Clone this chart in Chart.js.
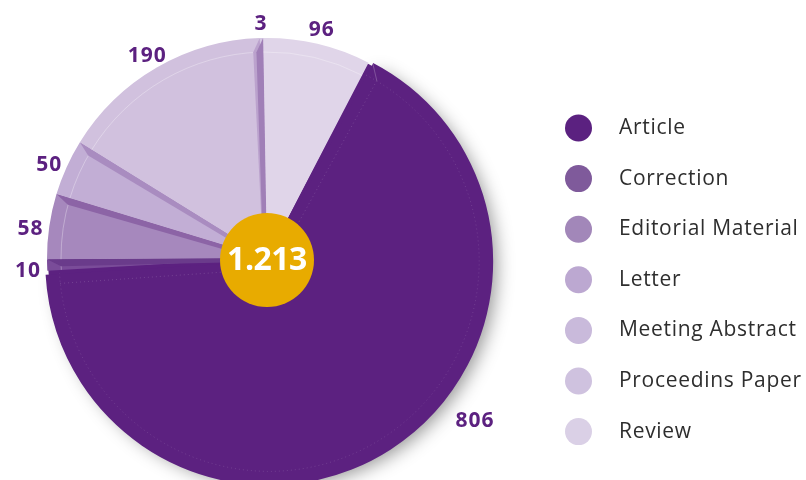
<!DOCTYPE html>
<html><head><meta charset="utf-8">
<script src="https://cdn.jsdelivr.net/npm/chart.js@4.4.1/dist/chart.umd.min.js"></script>
<style>html,body{margin:0;padding:0;background:#fff;}#wrap{width:806px;height:480px;position:relative;}</style>
</head><body><div id="wrap"><canvas id="c" width="806" height="480"></canvas></div>
<script>
const categories = ['Article','Correction','Editorial Material','Letter','Meeting Abstract','Proceedins Paper','Review'];
const counts = [806, 10, 58, 50, 190, 3, 96];
const totalLabel = '1.213';

const sliceColors = ['#5c2180','#7a4c99','#a688bd','#c2aed5','#d1c1de','#d4c6e2','#e0d5e9'];
const legendColors = ['#5b2180','#7f5a9b','#a287b9','#bca8d1','#c9badb','#cfc2df','#dad0e6'];
const bandColors = [null,'#6a3b8b','#8c64a6','#a98cc0','#bba2cd','#a07fb7',null];
const sliceOffsets = [16,0,0,0,0,0,0];

const FONT = '"Open Sans", "DejaVu Sans", sans-serif';
const PURPLE = '#5c2180';

// geometry of an arc as Chart.js v4 paints it (offset/4 shift and radius growth)
function geom(arc){
  const p = arc.getProps(['x','y','startAngle','endAngle','outerRadius','circumference'], true);
  const off = (arc.options.offset || 0) / 4;
  const mid = (p.startAngle + p.endAngle)/2;
  const fix = 1 - Math.sin(Math.min(Math.PI, p.circumference || 0));
  return {cx: p.x + Math.cos(mid)*off, cy: p.y + Math.sin(mid)*off, R: p.outerRadius + off*fix,
          s: p.startAngle, e: p.endAngle, mid, x: p.x, y: p.y, r: p.outerRadius};
}

const shadowPlugin = {
  id:'shadow',
  beforeDatasetsDraw(chart){
    const arc = chart.getDatasetMeta(0).data[0];
    const ctx = chart.ctx;
    const g = geom(arc);
    const far = 4000;
    ctx.save();
    ctx.shadowColor = 'rgba(0,0,0,0.42)';
    ctx.shadowBlur = 18;
    ctx.shadowOffsetX = far + 7;
    ctx.shadowOffsetY = 5;
    ctx.fillStyle = '#000';
    ctx.beginPath();
    ctx.moveTo(g.cx - far, g.cy);
    ctx.arc(g.cx - far, g.cy, g.R - 4, g.s, g.e);
    ctx.closePath();
    ctx.fill();
    ctx.restore();
    // fill the seam left by the exploded slice
    ctx.save();
    ctx.fillStyle = arc.options.backgroundColor;
    ctx.beginPath();
    ctx.moveTo(g.x, g.y);
    ctx.arc(g.x, g.y, g.r - 1, g.s - 0.005, g.e + 0.005);
    ctx.closePath();
    ctx.fill();
    ctx.restore();
  }
};

const bevelPlugin = {
  id:'bevel',
  afterDatasetsDraw(chart){
    const ctx = chart.ctx;
    const meta = chart.getDatasetMeta(0);
    const b = 14, w = 7;
    meta.data.forEach((arc,i)=>{
      const g = geom(arc);
      ctx.save();
      ctx.strokeStyle = i===0 ? 'rgba(255,255,255,0.13)' : 'rgba(255,255,255,0.3)';
      ctx.lineWidth = 1;
      if(i===0) ctx.setLineDash([1,3]);
      ctx.beginPath();
      ctx.arc(g.cx, g.cy, g.R - b, g.s, g.e);
      ctx.stroke();
      ctx.restore();
      if(bandColors[i]){
        const ux = Math.cos(g.e), uy = Math.sin(g.e);
        const nx = Math.sin(g.e), ny = -Math.cos(g.e);
        ctx.save();
        ctx.fillStyle = bandColors[i];
        ctx.beginPath();
        ctx.moveTo(g.cx + g.R*ux, g.cy + g.R*uy);
        ctx.lineTo(g.cx + (g.R-b)*ux + w*nx, g.cy + (g.R-b)*uy + w*ny);
        ctx.lineTo(g.cx + 30*ux + w*0.6*nx, g.cy + 30*uy + w*0.6*ny);
        ctx.lineTo(g.cx, g.cy);
        ctx.closePath();
        ctx.fill();
        ctx.restore();
      }
      if(i===0){
        const ux = Math.cos(g.s), uy = Math.sin(g.s);
        const nx = -Math.sin(g.s), ny = Math.cos(g.s);
        const bx = g.cx + (g.R-b)*ux + 12*nx, by = g.cy + (g.R-b)*uy + 12*ny;
        ctx.save();
        ctx.strokeStyle = 'rgba(255,255,255,0.22)';
        ctx.lineWidth = 1;
        ctx.beginPath();
        ctx.moveTo(g.cx + g.R*ux, g.cy + g.R*uy);
        ctx.lineTo(bx, by);
        ctx.stroke();
        ctx.strokeStyle = 'rgba(255,255,255,0.15)';
        ctx.setLineDash([1,3]);
        ctx.beginPath();
        ctx.moveTo(bx, by);
        ctx.lineTo(g.cx + 40*ux + 8*nx, g.cy + 40*uy + 8*ny);
        ctx.stroke();
        const ex = Math.cos(g.e), ey = Math.sin(g.e);
        const mx = Math.sin(g.e), my = -Math.cos(g.e);
        ctx.beginPath();
        ctx.moveTo(g.cx + (g.R-b)*ex + 10*mx, g.cy + (g.R-b)*ey + 10*my);
        ctx.lineTo(g.cx + 40*ex + 8*mx, g.cy + 40*ey + 8*my);
        ctx.stroke();
        ctx.restore();
      }
    });
  }
};

const centerPlugin = {
  id:'centerDisc',
  afterDatasetsDraw(chart){
    const ctx = chart.ctx;
    const arc = chart.getDatasetMeta(0).data[1];
    const cx = arc.x, cy = arc.y + 2;
    ctx.save();
    ctx.fillStyle = '#e8ab00';
    ctx.beginPath();
    ctx.arc(cx, cy, 47, 0, Math.PI*2);
    ctx.fill();
    ctx.fillStyle = '#ffffff';
    ctx.font = 'bold 32px ' + FONT;
    if('letterSpacing' in ctx) ctx.letterSpacing = '-0.5px';
    ctx.textAlign = 'center';
    ctx.textBaseline = 'middle';
    ctx.fillText(totalLabel, cx, cy + 1);
    ctx.restore();
  }
};

const labelOverrides = {0: {angleDeg: 128, dist: 264}};
const valueLabelPlugin = {
  id:'valueLabels',
  afterDatasetsDraw(chart){
    const ctx = chart.ctx;
    const meta = chart.getDatasetMeta(0);
    ctx.save();
    ctx.fillStyle = PURPLE;
    ctx.font = 'bold 21px ' + FONT;
    if('letterSpacing' in ctx) ctx.letterSpacing = '1px';
    ctx.textAlign = 'center';
    ctx.textBaseline = 'middle';
    meta.data.forEach((arc,i)=>{
      const g = geom(arc);
      let a = g.mid, d = g.r + 19, oy = g.y + 5;
      if(labelOverrides[i]){ a = (labelOverrides[i].angleDeg - 90)*Math.PI/180; d = labelOverrides[i].dist; oy = g.y; }
      ctx.fillText(String(chart.data.datasets[0].data[i]), g.x + Math.cos(a)*d, oy + Math.sin(a)*d);
    });
    ctx.restore();
  }
};

const legendPlugin = {
  id:'sideLegend',
  afterDraw(chart){
    const ctx = chart.ctx;
    ctx.save();
    ctx.font = '21px ' + FONT;
    if('letterSpacing' in ctx) ctx.letterSpacing = '0.7px';
    ctx.textBaseline = 'middle';
    ctx.textAlign = 'left';
    chart.data.labels.forEach((lab,i)=>{
      const y = 128 + i*50.6;
      ctx.fillStyle = legendColors[i];
      ctx.beginPath();
      ctx.arc(578.5, y, 13.5, 0, Math.PI*2);
      ctx.fill();
      ctx.fillStyle = '#2e2e2e';
      ctx.fillText(lab, 619, y);
    });
    ctx.restore();
  }
};

new Chart(document.getElementById('c'), {
  type:'pie',
  data:{labels:categories, datasets:[{data:counts, backgroundColor:sliceColors, borderWidth:0,
    offset:sliceOffsets, hoverOffset:0, radius:220, rotation:27.5}]},
  options:{
    responsive:false, animation:false, events:[],
    rotation:27.5, radius:220,
    layout:{padding:{left:47,right:319,top:38,bottom:2}},
    plugins:{legend:{display:false}, tooltip:{enabled:false}}
  },
  plugins:[shadowPlugin, bevelPlugin, centerPlugin, valueLabelPlugin, legendPlugin]
});
</script></body></html>
